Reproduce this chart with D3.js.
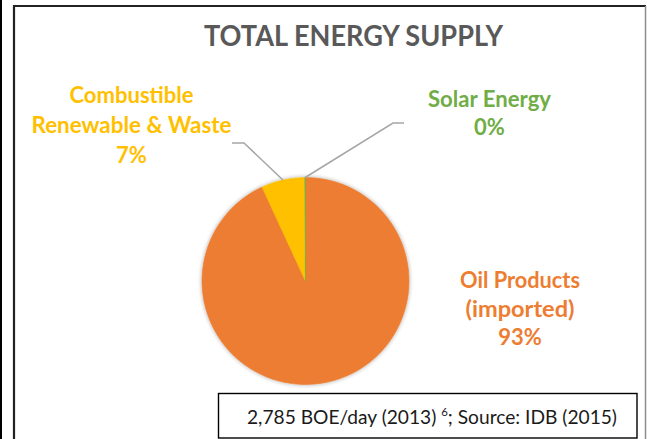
<!DOCTYPE html>
<html>
<head>
<meta charset="utf-8">
<script src="https://cdn.jsdelivr.net/npm/d3@7"></script>
<style>
  html, body { margin: 0; padding: 0; background: #fff; }
  svg { display: block; font-family: Lato, "Open Sans", sans-serif; }
</style>
</head>
<body>
<svg id="chart"></svg>
<script>
// Total energy supply pie — values are shares in percent

const categories = ["Oil Products (imported)", "Combustible Renewable & Waste", "Solar Energy"];
const shares = [93.1, 6.8, 0.1];
const labelLines = [["Oil Products", "(imported)"], ["Combustible", "Renewable & Waste"], ["Solar Energy"]];
const colors = ["#ED7D31", "#FFC000", "#70AD47"];
const titleText = "TOTAL ENERGY SUPPLY";
const footerText = ["2,785 BOE/day (2013) ", "6", "; Source: IDB (2015)"];

const width = 647;
const height = 439;

// --- layout (positions only, not data) ---
const cx = 305.5, cy = 281, radius = 103.5;
// label block: center x, first baseline, line step, widths of text lines
const labelLayout = [
  { x: 520, y: 288, step: 28.5, widths: [120, 109] },
  { x: 131.5, y: 103, step: 30, widths: [124, 200] },
  { x: 489.5, y: 106.5, step: 28, widths: [123] },
];
// leader line elbows: [horizontal end, elbow]  (null = no leader)
const leaders = [
  null,
  [[232, 143], [244, 143]],
  [[404, 123], [393, 123]],
];

const svg = d3.select("#chart")
  .attr("width", width)
  .attr("height", height);

svg.append("rect").attr("width", width).attr("height", height).attr("fill", "#fff");

// page edge + chart frame
svg.append("line").attr("x1", 1).attr("x2", 1).attr("y1", 0).attr("y2", height)
  .attr("stroke", "#000").attr("stroke-width", 2);
svg.append("line").attr("x1", 14).attr("x2", 14).attr("y1", 5).attr("y2", height)
  .attr("stroke", "#222").attr("stroke-width", 2.2);
svg.append("line").attr("x1", 13).attr("x2", 646).attr("y1", 6).attr("y2", 6)
  .attr("stroke", "#222").attr("stroke-width", 2.2);
svg.append("line").attr("x1", 645.5).attr("x2", 645.5).attr("y1", 6).attr("y2", height)
  .attr("stroke", "#8c8c8c").attr("stroke-width", 1.5);

// title
svg.append("text")
  .attr("x", 353.5).attr("y", 46)
  .attr("text-anchor", "middle")
  .attr("font-size", 28)
  .attr("font-weight", 700)
  .attr("fill", "#595959")
  .attr("textLength", 299)
  .attr("lengthAdjust", "spacingAndGlyphs")
  .text(titleText);

// soft shadow under the pie
const defs = svg.append("defs");
const filt = defs.append("filter").attr("id", "pieShadow")
  .attr("x", "-20%").attr("y", "-20%").attr("width", "140%").attr("height", "140%");
filt.append("feGaussianBlur").attr("in", "SourceAlpha").attr("stdDeviation", 2.2).attr("result", "blur");
filt.append("feOffset").attr("in", "blur").attr("dx", 0).attr("dy", 0).attr("result", "off");
filt.append("feComponentTransfer").attr("in", "off").attr("result", "faded")
  .append("feFuncA").attr("type", "linear").attr("slope", 0.35);
const merge = filt.append("feMerge");
merge.append("feMergeNode").attr("in", "faded");
merge.append("feMergeNode").attr("in", "SourceGraphic");

const pie = d3.pie().sort(null).value(d => d);
const arcs = pie(shares);
const arc = d3.arc().innerRadius(0).outerRadius(radius);

const pieG = svg.append("g")
  .attr("transform", `translate(${cx},${cy})`)
  .attr("filter", "url(#pieShadow)");

pieG.selectAll("path")
  .data(arcs)
  .join("path")
  .attr("d", arc)
  .attr("fill", (d, i) => colors[i])
  .attr("stroke", (d, i) => colors[i])
  .attr("stroke-width", 0.6);

// leader lines from the slice mid point on the rim
const rimPoint = d => {
  const a = (d.startAngle + d.endAngle) / 2;
  return [cx + radius * Math.sin(a), cy - radius * Math.cos(a)];
};
arcs.forEach((d, i) => {
  if (!leaders[i]) return;
  const pts = [leaders[i][0], leaders[i][1], rimPoint(d)];
  svg.append("path")
    .attr("d", d3.line()(pts))
    .attr("fill", "none")
    .attr("stroke", "#a6a6a6")
    .attr("stroke-width", 1.5);
});

// data labels
const pct = d3.format(".0f");
arcs.forEach((d, i) => {
  const L = labelLayout[i];
  const t = svg.append("g");
  const lines = labelLines[i].concat([pct(shares[i]) + "%"]);
  lines.forEach((s, k) => {
    const txt = t.append("text")
      .attr("x", L.x)
      .attr("y", L.y + k * L.step)
      .attr("text-anchor", "middle")
      .attr("font-size", 22)
      .attr("font-weight", 700)
      .attr("fill", colors[i])
      .text(s);
    if (L.widths[k]) txt.attr("textLength", L.widths[k]).attr("lengthAdjust", "spacingAndGlyphs");
  });
});

// footer note box
svg.append("rect")
  .attr("x", 218.5).attr("y", 393.5)
  .attr("width", 418.5).attr("height", 44.5)
  .attr("fill", "#fff")
  .attr("stroke", "#000")
  .attr("stroke-width", 1.4);

const foot = svg.append("text")
  .attr("x", 247).attr("y", 424)
  .attr("font-size", 18.5)
  .attr("fill", "#1a1a1a")
  .attr("textLength", 370)
  .attr("lengthAdjust", "spacingAndGlyphs");
foot.append("tspan").text(footerText[0]);
foot.append("tspan").attr("font-size", 11).attr("dy", -8).text(footerText[1]);
foot.append("tspan").attr("dy", 8).text(footerText[2]);
</script>
</body>
</html>
